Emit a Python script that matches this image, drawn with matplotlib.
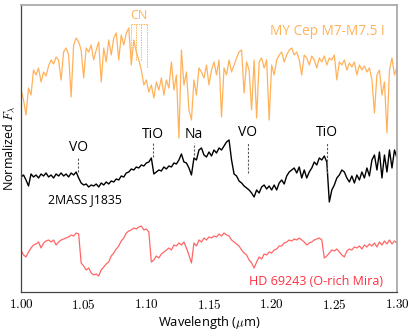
import numpy as np
import matplotlib
matplotlib.use('Agg')
import matplotlib.pyplot as plt

plt.rcParams['font.family'] = ['Open Sans', 'DejaVu Sans']
plt.rcParams['mathtext.fontset'] = 'cm'

# wavelength grid (micron), 0.002 um sampling
wave = np.linspace(1.00, 1.30, 151)

# MY Cep (M7-M7.5 I), normalized flux
flux_mycep = [0.60, 0.50, 0.35, 0.62, 0.55, 0.80, 0.75, 0.82, 0.68, 0.78,
              0.74, 0.84, 0.90, 0.86, 0.93, 0.90, 0.70, 0.98, 1.02, 0.95,
              0.53, 1.05, 1.12, 1.08, 1.00, 0.72, 1.02, 0.98, 1.05, 0.90,
              1.00, 1.08, 0.68, 1.02, 0.88, 1.10, 0.95, 1.12, 1.17, 0.90,
              1.15, 1.05, 1.17, 1.22, 0.85, 1.10, 0.98, 0.90, 0.80, 0.65,
              0.70, 0.58, 0.65, 0.52, 0.68, 0.60, 0.72, 0.55, 0.70, 0.62,
              0.88, 0.60, 0.75, 0.12, 1.00, 0.65, 0.78, 0.40, 0.30, 0.70,
              0.55, 0.82, 0.78, 0.72, 0.85, 0.65, 0.80, 0.88, 0.75, 0.90,
              0.33, 0.82, 0.75, 0.90, 0.78, 0.85, 0.92, 0.98, 1.00, 0.57,
              0.88, 0.80, 0.40, 0.90, 0.32, 0.88, 0.92, 0.82, 0.90, 0.30,
              0.85, 0.75, 0.90, 0.95, 0.98, 0.88, 0.95, 1.00, 1.02, 0.95,
              0.98, 0.90, 0.75, 0.95, 0.92, 0.85, 0.94, 0.90, 0.82, 0.92,
              0.88, 0.94, 0.85, 0.92, 0.90, 0.95, 0.70, 0.88, 0.85, 0.90,
              0.80, 0.87, 0.83, 0.88, 0.75, 0.85, 0.80, 0.84, 0.78, 0.82,
              0.70, 0.37, 0.75, 0.80, 0.55, 0.68, 0.17, 0.80, 0.92, 0.75,
              0.83]

# 2MASS J1835
flux_j1835 = [0.98, 1.00, 0.95, 0.89, 1.01, 0.98, 1.00, 0.97, 1.01, 0.99,
              1.02, 0.98, 1.00, 0.97, 1.01, 0.99, 1.02, 0.99, 1.01, 0.98,
              1.02, 1.00, 1.03, 0.97, 0.92, 0.90, 0.91, 0.88, 0.90, 0.89,
              0.91, 0.88, 0.92, 0.90, 0.93, 0.91, 0.94, 0.93, 0.96, 0.95,
              0.99, 0.98, 1.02, 1.03, 1.06, 1.05, 1.08, 1.07, 1.10, 1.09,
              1.12, 1.13, 1.17, 1.01, 1.03, 1.05, 1.04, 1.08, 1.06, 1.09,
              1.08, 1.12, 1.11, 1.15, 1.21, 1.13, 1.12, 1.07, 1.00, 1.17,
              1.15, 1.25, 1.27, 1.20, 1.18, 1.23, 1.19, 1.25, 1.22, 1.27,
              1.25, 1.29, 1.33, 1.35, 1.15, 1.01, 0.99, 0.94, 0.92, 0.89,
              0.87, 0.85, 0.82, 0.78, 0.85, 0.82, 0.88, 0.90, 0.86, 0.89,
              0.85, 0.90, 0.85, 0.92, 0.95, 0.91, 0.99, 1.03, 1.05, 1.07,
              1.02, 1.08, 0.97, 1.05, 0.97, 1.03, 1.07, 1.13, 1.10, 1.17,
              1.15, 1.19, 1.13, 0.73, 0.85, 0.90, 0.97, 1.00, 1.05, 1.03,
              0.97, 0.93, 0.99, 0.92, 1.00, 0.95, 1.03, 0.97, 1.07, 0.99,
              1.15, 1.20, 1.05, 1.23, 0.97, 1.20, 1.03, 1.25, 1.07, 1.25,
              1.17]

# HD 69243 (O-rich Mira)
flux_hd69243 = [0.95, 0.90, 0.88, 0.93, 0.97, 1.00, 1.01, 1.03, 0.97, 1.02,
                1.04, 1.05, 1.03, 1.05, 1.00, 1.03, 1.05, 1.06, 1.07, 1.08,
                1.10, 1.09, 1.12, 1.11, 0.82, 0.79, 0.75, 0.77, 0.72, 0.70,
                0.71, 0.69, 0.75, 0.78, 0.81, 0.83, 0.89, 0.92, 0.96, 0.99,
                1.04, 1.07, 1.12, 1.14, 1.15, 1.17, 1.16, 1.18, 1.19, 1.15,
                1.16, 1.13, 0.83, 0.85, 0.89, 0.87, 0.91, 0.93, 0.95, 0.97,
                0.95, 1.00, 0.99, 1.02, 1.00, 1.03, 0.97, 0.90, 0.82, 1.02,
                0.99, 1.05, 1.03, 1.07, 1.05, 1.08, 1.07, 1.09, 1.08, 1.11,
                1.09, 1.12, 1.10, 1.09, 1.05, 1.03, 1.01, 0.99, 0.95, 0.92,
                0.90, 0.85, 0.82, 0.77, 0.83, 0.88, 0.86, 0.91, 0.90, 0.93,
                0.92, 0.95, 0.96, 0.99, 0.99, 1.02, 1.03, 1.05, 1.04, 1.06,
                1.05, 1.07, 1.05, 1.03, 1.00, 1.02, 1.03, 1.05, 1.06, 1.07,
                1.05, 0.87, 0.89, 0.92, 0.95, 0.94, 0.96, 0.93, 0.90, 0.88,
                0.94, 0.96, 0.95, 0.98, 0.97, 0.99, 0.96, 1.00, 0.98, 1.01,
                0.99, 1.02, 0.98, 1.03, 1.00, 1.04, 1.01, 1.05, 1.01, 1.04,
                1.02]

offset_mycep = 1.42
offset_j1835 = 0.17
offset_hd69243 = -0.53

# molecular / atomic features marked on 2MASS J1835
feat_names = ['VO', 'TiO', 'Na', 'VO', 'TiO']
feat_wave = [1.0457, 1.1051, 1.138, 1.1809, 1.2441]
feat_text_y = [1.44, 1.57, 1.57, 1.59, 1.59]
feat_line_top = [1.34, 1.49, 1.49, 1.49, 1.49]
feat_line_bot = [1.20, 1.35, 1.37, 1.19, 1.19]

# CN bandheads on MY Cep
cn_wave = [1.0878, 1.0918, 1.0957, 1.1005]
cn_top = 2.68
cn_bot = [2.32, 2.32, 2.32, 2.25]

c_orange = '#FFB25A'
c_red = '#FF6666'

fig = plt.figure(figsize=(4.15, 3.32), dpi=100)
ax = fig.add_axes([0.0506, 0.1205, 0.906, 0.8645])

ax.plot(wave, np.array(flux_mycep) + offset_mycep, color=c_orange, lw=0.9)
ax.plot(wave, np.array(flux_j1835) + offset_j1835, color='k', lw=1.0)
ax.plot(wave, np.array(flux_hd69243) + offset_hd69243, color=c_red, lw=0.9)

for name, w, ty, lt, lb in zip(feat_names, feat_wave, feat_text_y, feat_line_top, feat_line_bot):
    ax.plot([w, w], [lb, lt], ls=(0, (2, 1.5)), color='0.35', lw=0.8)
    ax.text(w, ty, name, ha='center', va='center', fontsize=10)

ax.plot([cn_wave[0], cn_wave[-1]], [cn_top, cn_top], ls=(0, (1.5, 1)), color=c_orange, lw=0.7)
for w, b in zip(cn_wave, cn_bot):
    ax.plot([w, w], [b, cn_top], ls=(0, (1.5, 1)), color=c_orange, lw=0.7)
ax.text(np.mean(cn_wave), 2.76, 'CN', ha='center', va='center', fontsize=9, color=c_orange)

ax.text(1.2904, 2.60, 'MY Cep M7-M7.5 I', ha='right', va='center', fontsize=9.8, color=c_orange)
ax.text(1.0215, 0.92, '2MASS J1835', ha='left', va='center', fontsize=8.8, color='k')
ax.text(1.2888, 0.10, 'HD 69243 (O-rich Mira)', ha='right', va='center', fontsize=9, color='#FF2F3F')

ax.set_xlim(1.00, 1.30)
ax.set_ylim(0, 2.87)
ticks = [1.00, 1.05, 1.10, 1.15, 1.20, 1.25, 1.30]
ax.set_xticks(ticks)
ax.set_xticklabels([f'${t:.2f}$' for t in ticks], fontsize=9.5)
ax.set_yticks([])
ax.tick_params(axis='x', length=0, pad=4)

ax.set_xlabel(r'Wavelength ($\mu$m)', fontsize=9.3, labelpad=2)
ax.set_ylabel(r'Normalized $F_\lambda$', fontsize=9, labelpad=3)

for s in ['left', 'bottom']:
    ax.spines[s].set_color('#444444')
    ax.spines[s].set_linewidth(0.9)
for s in ['top', 'right']:
    ax.spines[s].set_color('#aaaaaa')
    ax.spines[s].set_linewidth(1.3)

fig.savefig('out.png', dpi=100)
